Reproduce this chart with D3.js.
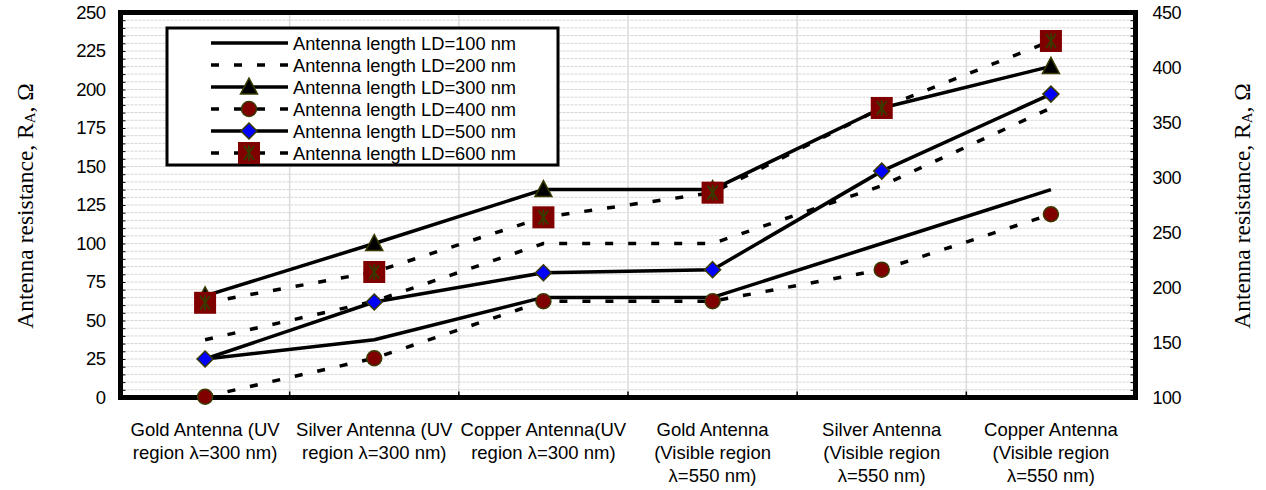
<!DOCTYPE html>
<html><head><meta charset="utf-8">
<script src="https://cdn.jsdelivr.net/npm/d3@7"></script>
<style>body{margin:0;background:#fff}</style>
</head><body>
<svg id="c" width="1266" height="490"></svg>
<script>
const categories = ["Gold UV", "Silver UV", "Copper UV", "Gold Vis", "Silver Vis", "Copper Vis"];
const xLabelLines = [
  ["Gold Antenna (UV", "region λ=300 nm)"],
  ["Silver Antenna (UV", "region λ=300 nm)"],
  ["Copper Antenna(UV", "region λ=300 nm)"],
  ["Gold Antenna", "(Visible region", "λ=550 nm)"],
  ["Silver Antenna", "(Visible region", "λ=550 nm)"],
  ["Copper Antenna", "(Visible region", "λ=550 nm)"]
];
const seriesNames = ["Antenna length LD=100 nm", "Antenna length LD=200 nm", "Antenna length LD=300 nm",
  "Antenna length LD=400 nm", "Antenna length LD=500 nm", "Antenna length LD=600 nm"];
const ld100 = [25, 37.5, 65, 65, 100, 135];
const ld200 = [37.5, 62.5, 100, 100, 137.5, 188];
const ld300 = [66, 100, 135, 135, 188, 215];
const ld400 = [0.5, 25.5, 62.5, 62.5, 83, 119];
const ld500 = [25, 62, 81, 83, 147, 197];
const ld600 = [61.5, 81.5, 117, 133, 188, 231.5];
const leftTicks = [0, 25, 50, 75, 100, 125, 150, 175, 200, 225, 250];
const rightTicks = [100, 150, 200, 250, 300, 350, 400, 450];
const yTitle = "Antenna resistance, R";

const seriesValues = [ld100, ld200, ld300, ld400, ld500, ld600];
const styles = [
  {dash: null, marker: null},
  {dash: "8,15", marker: null},
  {dash: null, marker: "triangle"},
  {dash: "8,15", marker: "circle"},
  {dash: null, marker: "diamond"},
  {dash: "8,15", marker: "square"}
];

const svg = d3.select("#c");
svg.append("rect").attr("width", 1266).attr("height", 490).attr("fill", "#fff");

const L = 120.5, R = 1135.5, T = 12.5, B = 397.5;
const x = d3.scaleBand().domain(categories).range([L, R]).padding(0);
const cx = c => x(c) + x.bandwidth() / 2;
const yL = d3.scaleLinear().domain([0, 250]).range([B, T]);
const yR = d3.scaleLinear().domain([100, 450]).range([B, T]);

// gridlines
const grid = svg.append("g");
grid.selectAll("line.h").data(d3.range(5, 250, 5)).join("line")
  .attr("x1", L + 2).attr("x2", R - 2)
  .attr("y1", d => yL(d)).attr("y2", d => yL(d))
  .attr("stroke", "#d6d6d6").attr("stroke-width", 1).attr("stroke-dasharray", "3,1");
grid.selectAll("line.v").data(categories.slice(1)).join("line")
  .attr("x1", d => x(d)).attr("x2", d => x(d))
  .attr("y1", T + 2).attr("y2", B - 2)
  .attr("stroke", "#dcdcdc").attr("stroke-width", 1.5);

// minor inward ticks
svg.append("g").attr("transform", `translate(${L + 2},0)`)
  .call(d3.axisRight(yL).tickValues(d3.range(5, 250, 5)).tickSize(3).tickFormat(""))
  .call(g => g.select(".domain").remove())
  .call(g => g.selectAll("line").attr("stroke", "#000"));
svg.append("g").attr("transform", `translate(${R - 2},0)`)
  .call(d3.axisLeft(yL).tickValues(d3.range(5, 250, 5)).tickSize(3).tickFormat(""))
  .call(g => g.select(".domain").remove())
  .call(g => g.selectAll("line").attr("stroke", "#000"));
svg.append("g").attr("transform", `translate(0,${B - 2})`)
  .call(d3.axisTop(x).tickSize(4).tickFormat("").tickValues(categories.slice(1)).offset(0))
  .call(g => g.select(".domain").remove())
  .call(g => g.selectAll(".tick").attr("transform", d => `translate(${x(d)},0)`))
  .call(g => g.selectAll("line").attr("stroke", "#000").attr("stroke-width", 1.5));

// frame
svg.append("rect").attr("x", L).attr("y", T).attr("width", R - L).attr("height", B - T)
  .attr("fill", "none").attr("stroke", "#000").attr("stroke-width", 5);

// axes labels
const lAx = svg.append("g").attr("transform", `translate(${L},0)`)
  .call(d3.axisLeft(yL).tickValues(leftTicks).tickSize(0).tickPadding(15));
lAx.select(".domain").remove();
lAx.selectAll("text").attr("font-family", "Liberation Sans, Arial, sans-serif").attr("font-size", 18.5).attr("fill", "#000").attr("letter-spacing", "-0.5");
const rAx = svg.append("g").attr("transform", `translate(${R},0)`)
  .call(d3.axisRight(yR).tickValues(rightTicks).tickSize(0).tickPadding(17));
rAx.select(".domain").remove();
rAx.selectAll("text").attr("font-family", "Liberation Sans, Arial, sans-serif").attr("font-size", 18).attr("fill", "#000").attr("letter-spacing", "-0.5");

// x labels
const xl = svg.append("g");
categories.forEach((c, i) => {
  const t = xl.append("text").attr("text-anchor", "middle")
    .attr("font-family", "Liberation Sans, Arial, sans-serif").attr("font-size", 18.5).attr("fill", "#000");
  xLabelLines[i].forEach((s, j) => {
    t.append("tspan").attr("x", cx(c)).attr("y", 436 + j * 23).text(s);
  });
});

// y titles
function title(xp) {
  const t = svg.append("text").attr("transform", `translate(${xp},206) rotate(-90)`)
    .attr("text-anchor", "middle").attr("dominant-baseline", "central")
    .attr("font-family", "Liberation Serif, Times New Roman, serif").attr("font-size", 23.5).attr("fill", "#000");
  t.append("tspan").text(yTitle);
  t.append("tspan").attr("font-size", 15).attr("dy", 5).text("A");
  t.append("tspan").attr("dy", -5).text(", Ω");
}
title(25);
title(1242);

// markers
const olive = "#3a3a00";
function drawMarker(g, type, px, py) {
  if (type === "triangle") {
    g.append("path").attr("d", `M${px},${py - 9}L${px + 8.5},${py + 7}L${px - 8.5},${py + 7}Z`)
      .attr("fill", "#000").attr("stroke", olive).attr("stroke-width", 1.5);
  } else if (type === "circle") {
    g.append("circle").attr("cx", px).attr("cy", py).attr("r", 7.5)
      .attr("fill", "#800000").attr("stroke", olive).attr("stroke-width", 1.5);
  } else if (type === "diamond") {
    g.append("path").attr("d", `M${px},${py - 8}L${px + 8},${py}L${px},${py + 8}L${px - 8},${py}Z`)
      .attr("fill", "#0000ff").attr("stroke", olive).attr("stroke-width", 1.5);
  } else if (type === "square") {
    g.append("rect").attr("x", px - 11).attr("y", py - 11).attr("width", 22).attr("height", 22)
      .attr("fill", "#800000");
    g.append("path").attr("d", `M${px},${py - 8}L${px},${py + 8}M${px - 5},${py - 7}L${px + 5},${py + 7}M${px - 5},${py + 7}L${px + 5},${py - 7}`)
      .attr("stroke", olive).attr("stroke-width", 2).attr("fill", "none");
  }
}

const line = d3.line().x((d, i) => cx(categories[i])).y(d => yL(d));
const plot = svg.append("g");
seriesValues.forEach((vals, si) => {
  const st = styles[si];
  plot.append("path").datum(vals).attr("d", line)
    .attr("fill", "none").attr("stroke", "#000").attr("stroke-width", 3.5)
    .attr("stroke-dasharray", st.dash).attr("stroke-linejoin", "round");
  if (st.marker) {
    vals.forEach((v, i) => drawMarker(plot, st.marker, cx(categories[i]), yL(v)));
  }
});

// legend
const lg = svg.append("g");
lg.append("rect").attr("x", 167).attr("y", 28).attr("width", 391).attr("height", 137)
  .attr("fill", "#fff").attr("stroke", "#000").attr("stroke-width", 3);
seriesNames.forEach((n, i) => {
  const yy = 43 + i * 22;
  const st = styles[i];
  lg.append("line").attr("x1", 211).attr("x2", 288).attr("y1", yy).attr("y2", yy)
    .attr("stroke", "#000").attr("stroke-width", 3.5).attr("stroke-dasharray", st.dash);
  if (st.marker) drawMarker(lg, st.marker, 249, yy);
  lg.append("text").attr("x", 293).attr("y", yy).attr("dominant-baseline", "central")
    .attr("font-family", "Liberation Sans, Arial, sans-serif").attr("font-size", 18.3).attr("fill", "#000")
    .text(n);
});
</script>
</body></html>
